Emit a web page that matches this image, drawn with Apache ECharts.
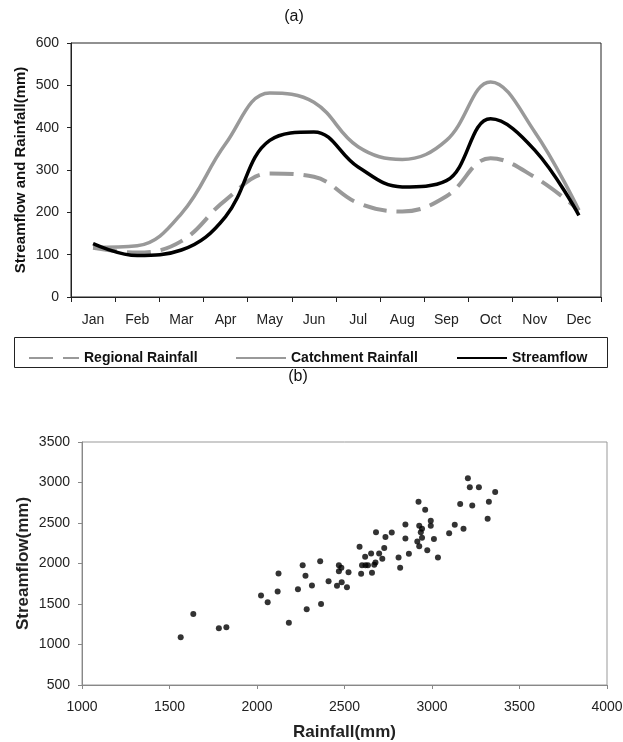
<!DOCTYPE html>
<html>
<head>
<meta charset="utf-8">
<script src="https://cdn.jsdelivr.net/npm/echarts@6/dist/echarts.min.js"></script>
<style>
html,body{margin:0;padding:0;background:#fff;}
#chart{width:623px;height:742px;}
</style>
</head>
<body>
<div id="chart"></div>
<script>
var months = ['Jan','Feb','Mar','Apr','May','Jun','Jul','Aug','Sep','Oct','Nov','Dec'];
var regionalRainfall = [116, 105, 132, 229, 292, 284, 222, 202, 238, 328, 283, 205];
var catchmentRainfall = [117, 121, 197, 362, 482, 460, 355, 325, 370, 508, 390, 205];
var streamflow = [126, 98, 111, 190, 370, 390, 307, 260, 275, 421, 347, 193];

var scatterRainfall = [1564,1636,1782,1825,2023,2061,2118,2123,2182,2234,2261,2277,2284,2314,2361,2366,2409,2457,2468,2468,2482,2484,2514,2523,2586,2595,2600,2618,2620,2634,2652,2657,2670,2677,2680,2698,2716,2727,2734,2770,2809,2818,2848,2848,2868,2916,2923,2927,2927,2936,2943,2943,2961,2973,2993,2993,3011,3034,3098,3130,3161,3180,3205,3216,3230,3268,3318,3325,3361];
var scatterStreamflow = [1089,1378,1200,1213,1604,1522,1654,1876,1267,1683,1979,1848,1435,1728,2029,1501,1782,1724,1979,1905,1946,1769,1707,1893,2206,1872,1979,2083,1979,1979,2124,1885,1984,2012,2387,2124,2058,2190,2326,2383,2074,1946,2482,2309,2120,2272,2762,2466,2214,2387,2429,2317,2664,2165,2528,2466,2301,2074,2375,2478,2734,2429,3051,2940,2717,2940,2552,2762,2882];

var topYTicks = [0, 600, 100];
var bottomXTicks = [1000, 4000, 500];
var bottomYTicks = [500, 3500, 500];

var scatterData = scatterRainfall.map(function(r, i){ return [r, scatterStreamflow[i]]; });

var FONT = '"Liberation Sans", Arial, sans-serif';
var chart = echarts.init(document.getElementById('chart'), null, {renderer:'canvas'});

var legendText = {fontFamily: FONT, fontSize: 14, fontWeight: 'bold', color: '#111'};
var hiddenSymbol = {color: 'rgba(0,0,0,0)', borderColor: 'rgba(0,0,0,0)', borderWidth: 0, opacity: 0};
var plain = function(v){ return String(v); };

chart.setOption({
  animation: false,
  backgroundColor: '#fff',
  graphic: [
    {type: 'text', x: 294, y: 17, style: {text: '(a)', align: 'center', verticalAlign: 'middle', fontFamily: FONT, fontSize: 16, fill: '#111'}},
    {type: 'text', x: 298, y: 377, style: {text: '(b)', align: 'center', verticalAlign: 'middle', fontFamily: FONT, fontSize: 16, fill: '#111'}},
    {type: 'rect', shape: {x: 14.5, y: 337.5, width: 593, height: 30}, style: {fill: 'none', stroke: '#222', lineWidth: 1}, z: 1}
  ],
  legend: [
    {data: ['Regional Rainfall'], left: 28, top: 351, padding: 0, itemWidth: 50, itemHeight: 12, itemStyle: hiddenSymbol, textStyle: legendText},
    {data: ['Catchment Rainfall'], left: 235, top: 351, padding: 0, itemWidth: 50, itemHeight: 12, itemStyle: hiddenSymbol, textStyle: legendText},
    {data: ['Streamflow'], left: 456, top: 351, padding: 0, itemWidth: 50, itemHeight: 12, itemStyle: hiddenSymbol, textStyle: legendText}
  ],
  grid: [
    {left: 71, top: 43, width: 530, height: 254, show: true, borderColor: '#222', borderWidth: 1, backgroundColor: 'transparent', containLabel: false, outerBoundsMode: 'none'},
    {left: 82, top: 442, width: 525, height: 243, show: true, borderColor: '#999', borderWidth: 1, backgroundColor: 'transparent', containLabel: false, outerBoundsMode: 'none'}
  ],
  xAxis: [
    {
      type: 'category', gridIndex: 0, data: months, boundaryGap: true,
      axisLine: {lineStyle: {color: '#222', width: 1}},
      axisTick: {show: true, interval: 0, length: 5, lineStyle: {color: '#222'}},
      axisLabel: {fontFamily: FONT, fontSize: 14, color: '#222', margin: 16},
      splitLine: {show: false}
    },
    {
      type: 'value', gridIndex: 1, min: bottomXTicks[0], max: bottomXTicks[1], interval: bottomXTicks[2],
      name: 'Rainfall(mm)', nameLocation: 'middle', nameGap: 39, nameMoveOverlap: false,
      nameTextStyle: {fontFamily: FONT, fontSize: 17, fontWeight: 'bold', color: '#222'},
      axisLine: {lineStyle: {color: '#888', width: 1}},
      axisTick: {show: true, length: 4, lineStyle: {color: '#888'}},
      axisLabel: {fontFamily: FONT, fontSize: 14, color: '#222', margin: 15, formatter: plain},
      splitLine: {show: false}
    }
  ],
  yAxis: [
    {
      type: 'value', gridIndex: 0, min: topYTicks[0], max: topYTicks[1], interval: topYTicks[2],
      name: 'Streamflow and Rainfall(mm)', nameLocation: 'middle', nameGap: 43, nameMoveOverlap: false,
      nameTextStyle: {fontFamily: FONT, fontSize: 15, fontWeight: 'bold', color: '#111'},
      axisLine: {show: true, lineStyle: {color: '#222', width: 1}},
      axisTick: {show: true, length: 4, lineStyle: {color: '#222'}},
      axisLabel: {fontFamily: FONT, fontSize: 14, color: '#222', margin: 12, formatter: plain},
      splitLine: {show: false}
    },
    {
      type: 'value', gridIndex: 1, min: bottomYTicks[0], max: bottomYTicks[1], interval: bottomYTicks[2],
      name: 'Streamflow(mm)', nameLocation: 'middle', nameGap: 50, nameMoveOverlap: false,
      nameTextStyle: {fontFamily: FONT, fontSize: 17, fontWeight: 'bold', color: '#222'},
      axisLine: {show: true, lineStyle: {color: '#888', width: 1}},
      axisTick: {show: true, length: 4, lineStyle: {color: '#888'}},
      axisLabel: {fontFamily: FONT, fontSize: 14, color: '#222', margin: 12, formatter: plain},
      splitLine: {show: false}
    }
  ],
  series: [
    {
      name: 'Regional Rainfall', type: 'line', xAxisIndex: 0, yAxisIndex: 0, data: regionalRainfall,
      smooth: 0.4, showSymbol: false, symbol: 'none', z: 3,
      lineStyle: {color: '#999', width: 4, type: [24, 10]},
      itemStyle: {color: '#999'}
    },
    {
      name: 'Catchment Rainfall', type: 'line', xAxisIndex: 0, yAxisIndex: 0, data: catchmentRainfall,
      smooth: 0.4, showSymbol: false, symbol: 'none', z: 3,
      lineStyle: {color: '#999', width: 3.5},
      itemStyle: {color: '#999'}
    },
    {
      name: 'Streamflow', type: 'line', xAxisIndex: 0, yAxisIndex: 0, data: streamflow,
      smooth: 0.4, showSymbol: false, symbol: 'none', z: 4,
      lineStyle: {color: '#000', width: 3.5},
      itemStyle: {color: '#000'}
    },
    {
      name: 'scatter', type: 'scatter', xAxisIndex: 1, yAxisIndex: 1, data: scatterData,
      symbolSize: 6, itemStyle: {color: '#000'}
    }
  ]
});
</script>
</body>
</html>
